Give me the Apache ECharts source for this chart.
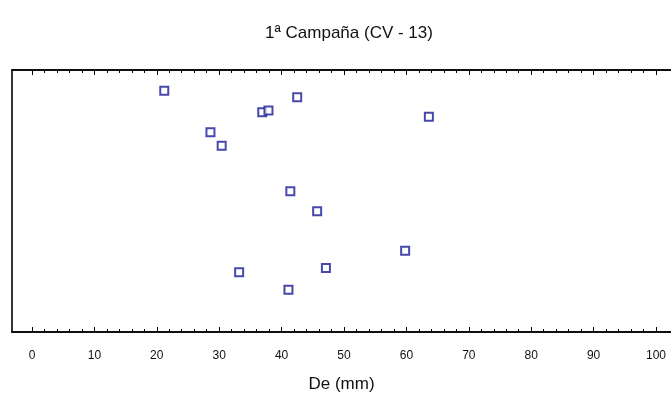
<!DOCTYPE html>
<html>
<head>
<meta charset="utf-8">
<script src="https://cdn.jsdelivr.net/npm/echarts@6/dist/echarts.min.js"></script>
<style>html,body{margin:0;padding:0;background:#fff}#c{width:671px;height:401px}</style>
</head>
<body>
<div id="c"></div>
<script>
var titleText = "1ª Campaña (CV - 13)";
var xName = "De (mm)";
var deValues = [21.2, 42.5, 36.9, 37.9, 28.6, 30.4, 41.4, 45.7, 33.2, 47.1, 41.1, 63.6, 59.8];
var yValues  = [92.1, 89.6, 83.9, 84.5, 76.2, 71.1, 53.7, 46.1, 22.8, 24.4, 16.1, 82.2, 31.0];
var majorTicks = [0, 10, 20, 30, 40, 50, 60, 70, 80, 90, 100];
var minorTicks = [];
majorTicks.forEach(function (m) { if (m < 100) { [2, 4, 6, 8].forEach(function (k) { minorTicks.push(m + k); }); } });

var points = deValues.map(function (v, i) { return [v, yValues[i]]; });
var xMin = -3.2, xMax = 102.4;

function xAx(pos, ticks, len, labels) {
  return {
    type: 'value', position: pos, min: xMin, max: xMax,
    axisLine: { show: true, onZero: false, lineStyle: { color: '#000', width: 1.6 } },
    axisTick: { show: true, inside: true, length: len, customValues: ticks, lineStyle: { color: '#000', width: 1 } },
    axisLabel: labels ? { show: true, customValues: majorTicks, margin: 18, color: '#111', fontSize: 12,
      fontFamily: 'Liberation Sans Narrow, Liberation Sans, sans-serif' } : { show: false },
    splitLine: { show: false }
  };
}

var chart = echarts.init(document.getElementById('c'), null, { renderer: 'canvas' });
var axes = [xAx('bottom', majorTicks, 5, true), xAx('top', majorTicks, 5, false),
            xAx('bottom', minorTicks, 3, false), xAx('top', minorTicks, 3, false)];
axes[0].name = xName;
axes[0].nameLocation = 'middle';
axes[0].nameGap = 44;
axes[0].nameTextStyle = { color: '#111', fontSize: 17, fontFamily: 'Liberation Sans, Arial, sans-serif' };
chart.setOption({
  backgroundColor: '#fff',
  animation: false,
  title: { text: titleText, left: 344, textAlign: 'center', top: 20,
    textStyle: { color: '#111', fontSize: 17, fontWeight: 'normal', fontFamily: 'Liberation Sans, Arial, sans-serif' } },
  grid: { left: 12, right: 0, top: 70, bottom: 69, containLabel: false },
  xAxis: axes,
  yAxis: { type: 'value', min: 0, max: 100,
    axisLine: { show: true, onZero: false, lineStyle: { color: '#000', width: 1.6 } },
    axisTick: { show: false }, axisLabel: { show: false }, splitLine: { show: false } },
  series: [{
    type: 'scatter', xAxisIndex: 0, data: points,
    symbol: 'rect', symbolSize: 8,
    itemStyle: { color: '#fff', borderColor: '#1a1a96', borderWidth: 2 }
  }]
});
</script>
</body>
</html>
